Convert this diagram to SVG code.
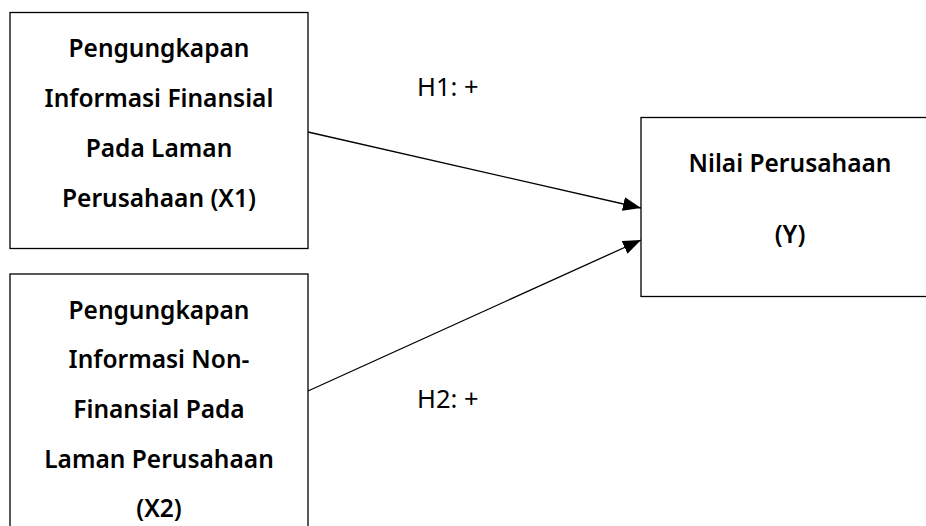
<svg xmlns="http://www.w3.org/2000/svg" width="926" height="526" viewBox="0 0 926 526">
<defs>
<style>
.box{fill:#fff;stroke:#000;stroke-width:1.3}
.t{font-family:"Noto Sans","Open Sans","DejaVu Sans",sans-serif;font-weight:600;font-size:24.5px;fill:#000;text-anchor:middle}
.lbl{font-family:"Noto Sans","Open Sans","DejaVu Sans",sans-serif;font-size:25.5px;fill:#000}
.conn{stroke:#000;stroke-width:1.3;fill:none}
</style>
<marker id="arr" viewBox="0 0 18 14" refX="18" refY="7" markerWidth="18" markerHeight="14" markerUnits="userSpaceOnUse" orient="auto">
<path d="M0,0 L18,7 L0,14 Z" fill="#000"/>
</marker>
</defs>
<rect width="926" height="526" fill="#fff"/>
<g id="x1">
<rect class="box" x="10" y="12.5" width="298" height="236"/>
<text class="t" x="159" y="57">Pengungkapan</text>
<text class="t" x="159" y="107">Informasi Finansial</text>
<text class="t" x="159" y="157">Pada Laman</text>
<text class="t" x="159" y="207">Perusahaan (X1)</text>
</g>
<g id="x2">
<rect class="box" x="10" y="274" width="298" height="270"/>
<text class="t" x="159" y="319">Pengungkapan</text>
<text class="t" x="159" y="368">Informasi Non-</text>
<text class="t" x="159" y="418">Finansial Pada</text>
<text class="t" x="159" y="468">Laman Perusahaan</text>
<text class="t" x="159" y="517">(X2)</text>
</g>
<g id="y">
<rect class="box" x="641" y="117.5" width="300" height="179"/>
<text class="t" x="790" y="172">Nilai Perusahaan</text>
<text class="t" x="790" y="243">(Y)</text>
</g>
<g id="connectors">
<line class="conn" x1="308" y1="132" x2="641" y2="208" marker-end="url(#arr)"/>
<line class="conn" x1="308" y1="391" x2="641" y2="240" marker-end="url(#arr)"/>
<text class="lbl" x="417" y="96">H1: +</text>
<text class="lbl" x="417" y="408">H2: +</text>
</g>
</svg>
